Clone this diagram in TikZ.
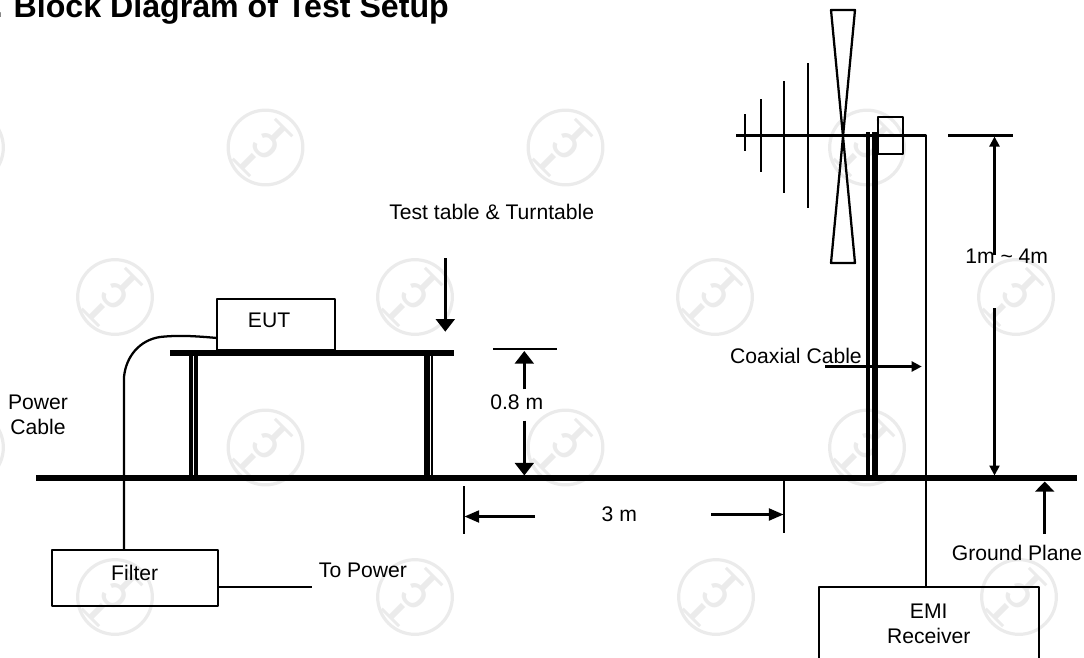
\documentclass[tikz,border=0pt]{standalone}
\usepackage{fontspec}
\setmainfont{Liberation Sans}
\usetikzlibrary{arrows.meta}
\definecolor{markgray}{HTML}{EBEBEB}
\begin{document}
\begin{tikzpicture}[line join=round,x=0.75pt,y=-0.75pt,font=\fontsize{15.85}{19}\selectfont]
	\tikzset{
		box/.style={draw,line width=1.3pt,inner sep=0pt},
		wire/.style={line width=1.7pt},
		heavy/.style={line width=2.5pt},
		bigtip/.style={-{Stealth[inset=0pt,length=9.5pt,width=14pt]}},
		midtip/.style={-{Stealth[inset=0pt,length=11pt,width=9pt]}},
		thintip/.style={-{Stealth[inset=0pt,length=7.5pt,width=7.5pt]}},
		wmark/.style={text=markgray,font=\fontsize{21}{21}\selectfont\bfseries,inner sep=0pt}
	}
	\useasboundingbox (0,0) rectangle (1084,657);
	% Watermark
	\foreach \wx/\wy [count=\i] in {-34/147.5,265.5/147.5,565.5/147.5,867/147.5,
		115/297,415/297,715/297,1016/297,
		-34/447.5,265.5/447.5,565.5/447.5,867/447.5,
		115/597,415/597,716/597,1019/597}{
		\draw[markgray,line width=2.4pt] (\wx,\wy) circle (28pt);
		\node[wmark,rotate=135,xscale=1.5] (wmA\i) at (\wx-18,\wy+15) {T};
		\node[wmark,rotate=135,scale=1.2] (wmB\i) at (\wx,\wy-1) {C};
		\node[wmark,rotate=-45,xscale=1.5] (wmC\i) at (\wx+13,\wy-14) {T};
	}
	% Title
	\node[anchor=base west,inner sep=0pt,font=\fontsize{24.1}{28}\selectfont\bfseries] (title) at (-6.4,17.3) {.\kern1.5pt\ Block Diagram of Test Setup};
	% Ground plane
	\coordinate (gndL) at (36,478);
	\coordinate (gndR) at (1077,478);
	\draw[line width=5pt] (gndL)--(gndR);
	% Table and its legs
	\coordinate (tableL) at (170,352.7);
	\coordinate (tableR) at (454,352.7);
	\draw[line width=4.8pt] (tableL)--(tableR);
	\foreach \lx/\lw in {190.9/2.6pt,195.9/2.6pt,427/3.8pt,432/1.9pt}{
		\draw[line width=\lw] (\lx,353)--(\lx,476);
	}
	% Boxes
	\node[box,minimum width=88.7pt,minimum height=38.3pt,label={[xshift=-5.2pt,yshift=3.4pt]center:EUT}] (eut) at (276,324.5) {};
	\node[box,minimum width=124.5pt,minimum height=41.8pt,label={[yshift=3.8pt]center:Filter}] (filter) at (134.7,577.8) {};
	\node[box,minimum width=165pt,minimum height=75pt,label={[yshift=10pt,align=center]center:EMI\\Receiver}] (receiver) at (928.7,637) {};
	% Cables
	\coordinate (cableEut) at (217,338);
	\coordinate (cableBend) at (124,377);
	\draw[wire] (cableEut) .. controls (195,336) and (178,335) .. (160,337)
		.. controls (140,340) and (126,356) .. (cableBend) -- (cableBend |- filter.north);
	\coordinate (powerEnd) at (312.3,587.3);
	\draw[wire] (filter.east |- powerEnd)--(powerEnd);
	\node (toPower) at (363,570) {To Power};
	\node[align=center] (powerCable) at (38,414.5) {Power\\Cable};
	% Antenna
	\coordinate (boomL) at (736,135.5);
	\coordinate (boomR) at (925.7,135.5);
	\draw[wire] (boomL)--(boomR)--(boomR |- receiver.north);
	\draw[wire] (831,10)--(855,10)--(831,263)--(855,263)--cycle;
	\foreach \ex/\ea/\eb in {745/114/151,761/99/172,784/81/193,808/63/208}{
		\draw[wire] (\ex,\ea)--(\ex,\eb);
	}
	\foreach \mx/\mw in {868/2.6pt,875/4.2pt}{
		\draw[line width=\mw] (\mx,132)--(\mx,476);
	}
	\node[box,minimum width=18.75pt,minimum height=27.75pt] (antBox) at (890.5,135.5) {};
	% Height of table
	\coordinate (tabTopL) at (493.3,349.3);
	\coordinate (tabTopR) at (557.3,349.3);
	\draw[wire] (tabTopL)--(tabTopR);
	\node (tabHeight) at (516.7,402.7) {0.8 m};
	\draw[heavy,bigtip] (524.3,389.3)--(524.3,351);
	\draw[heavy,bigtip] (524.3,420.7)--(524.3,475.5);
	% Test table arrow
	\node (tableText) at (491.7,211.7) {Test table \& Turntable};
	\draw[heavy,bigtip] (445.3,258.3)--(445.3,331.7);
	% Distance
	\foreach \dx/\da/\db in {463.7/486/534,784.3/480/533}{
		\draw[wire] (\dx,\da)--(\dx,\db);
	}
	\node (distance) at (619.3,514) {3 m};
	\draw[wire,midtip] (535,516.5)--(464.5,516.5);
	\draw[wire,midtip] (711,514.5)--(783.5,514.5);
	% Antenna height
	\coordinate (antTopL) at (948,135.5);
	\coordinate (antTopR) at (1013,135.5);
	\draw[wire] (antTopL)--(antTopR);
	\node (antHeight) at (1006.7,256.7) {1m \textasciitilde{} 4m};
	\draw[wire,thintip] (994.5,255)--(994.5,136.5);
	\draw[wire,thintip] (994.5,308)--(994.5,475.5);
	% Coaxial cable label
	\node (coaxText) at (796,356) {Coaxial Cable};
	\draw[wire,thintip] (825,366.5)--(921.7,366.5);
	% Ground plane label
	\node (gndText) at (1017,553) {Ground Plane};
	\draw[line width=2.6pt,-{Stealth[inset=0pt,length=7.5pt,width=14pt]}] (1044.7,534)--(1044.7,481.5);
\end{tikzpicture}
\end{document}
